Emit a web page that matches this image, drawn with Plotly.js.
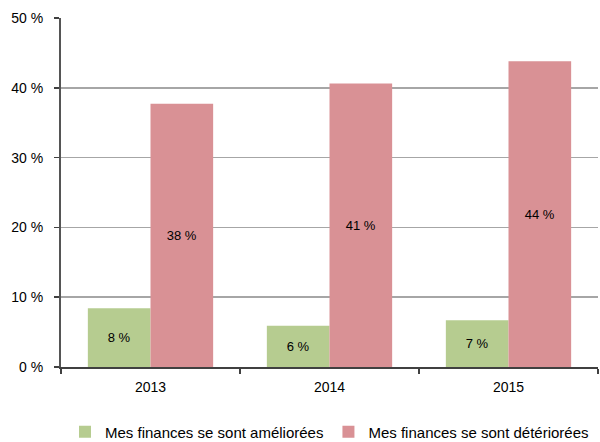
<!DOCTYPE html>
<html><head><meta charset="utf-8">
<script src="https://cdn.plot.ly/plotly-3.0.1.min.js"></script>
<style>html,body{margin:0;padding:0;background:#fff;}#c{width:600px;height:442px;}</style>
</head><body><div id="c"></div>
<script>
const years = ['2013', '2014', '2015'];
const ameliorees = [8.4, 5.9, 6.7];
const deteriorees = [37.7, 40.6, 43.8];
const seriesNames = ['Mes finances se sont améliorées', 'Mes finances se sont détériorées'];
const yTickVals = [0, 10, 20, 30, 40, 50];
const yTickText = ['0 %', '10 %', '20 %', '30 %', '40 %', '50 %'];

const fam = 'Liberation Sans, Arial, sans-serif';
const labelFont = {family: fam, size: 13, color: '#000'};
const tickFont = {family: fam, size: 14, color: '#000'};
const traces = [
  {type: 'bar', x: years, y: ameliorees, name: seriesNames[0],
   marker: {color: '#B6CC90'}, texttemplate: '%{y:.0f} %', textposition: 'inside',
   insidetextanchor: 'middle', textfont: labelFont, hoverinfo: 'skip'},
  {type: 'bar', x: years, y: deteriorees, name: seriesNames[1],
   marker: {color: '#D99195'}, texttemplate: '%{y:.0f} %', textposition: 'inside',
   insidetextanchor: 'middle', textfont: labelFont, hoverinfo: 'skip'}
];
const layout = {
  width: 600, height: 442,
  margin: {l: 61, r: 2, t: 18, b: 75, autoexpand: false},
  paper_bgcolor: '#fff', plot_bgcolor: '#fff',
  barmode: 'group', bargap: 0.3, bargroupgap: 0,
  font: tickFont,
  showlegend: true,
  legend: {orientation: 'h', x: 0.5, xanchor: 'center', y: -0.186, yanchor: 'middle',
           font: {family: fam, size: 15, color: '#000'},
           itemwidth: 30, tracegroupgap: 0},
  xaxis: {type: 'category', showline: true, linecolor: '#404040', linewidth: 2,
          ticks: 'outside', tickson: 'boundaries', ticklen: 5, tickcolor: '#404040', tickwidth: 1.5,
          ticklabelstandoff: 6, automargin: false,
          showgrid: false, tickfont: tickFont, fixedrange: true},
  yaxis: {range: [0, 50], tickmode: 'array', tickvals: yTickVals, ticktext: yTickText,
          showline: true, linecolor: '#555', linewidth: 2,
          ticks: 'outside', ticklen: 5, tickcolor: '#404040', tickwidth: 1.5,
          ticklabelstandoff: 8, automargin: false,
          showgrid: true, gridcolor: '#a6a6a6', gridwidth: 1.5, zeroline: false,
          tickfont: tickFont, fixedrange: true}
};
Plotly.newPlot('c', traces, layout, {displayModeBar: false, staticPlot: true});
</script></body></html>
